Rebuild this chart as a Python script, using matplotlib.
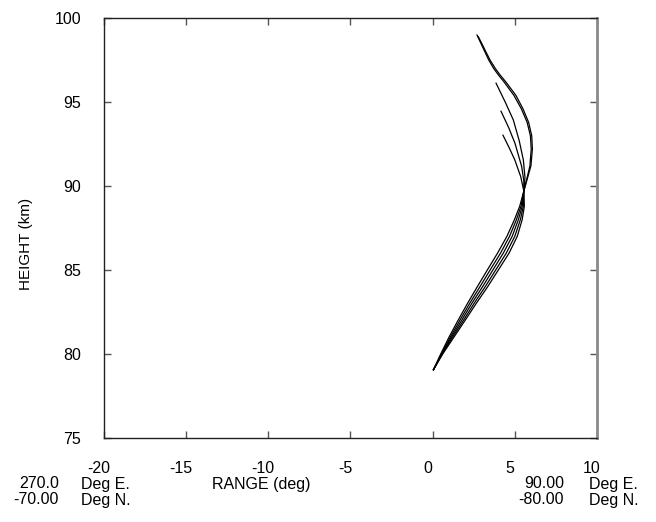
import matplotlib
matplotlib.use("Agg")
import matplotlib.pyplot as plt
import matplotlib.transforms as mtransforms

plt.rcParams['font.family'] = ['Liberation Sans', 'DejaVu Sans']
plt.rcParams['axes.unicode_minus'] = False

# heights (km) read for the lower part of the profiles (all lines share them)
lower_h = [79.05, 80.0, 81.0, 82.0, 83.0, 84.0, 85.0, 86.0, 87.0, 88.0, 88.8, 89.7]
lower_x = [
    [0.05, 0.50, 1.00, 1.55, 2.12, 2.72, 3.33, 3.95, 4.52, 4.98, 5.30, 5.55],
    [0.05, 0.53, 1.08, 1.66, 2.25, 2.88, 3.50, 4.13, 4.68, 5.10, 5.38, 5.55],
    [0.05, 0.56, 1.15, 1.77, 2.38, 3.04, 3.67, 4.30, 4.84, 5.22, 5.45, 5.55],
    [0.05, 0.59, 1.22, 1.88, 2.52, 3.20, 3.84, 4.48, 5.00, 5.34, 5.52, 5.55],
    [0.05, 0.62, 1.30, 1.98, 2.65, 3.35, 4.00, 4.65, 5.15, 5.45, 5.58, 5.55],
]

# upper part, above the crossing near 90 km
upper_h = [
    [90.5, 91.2, 92.2, 93.0, 93.8, 94.6, 95.4, 96.2, 96.6, 97.0, 97.5, 98.0, 98.5, 99.0],
    [90.5, 91.2, 92.2, 93.0, 93.8, 94.6, 95.4, 96.2, 96.6, 97.0, 97.5, 98.0, 98.5, 98.9],
    [90.5, 91.56, 92.7, 93.94, 95.0, 96.13],
    [90.3, 91.16, 92.55, 93.5, 94.46],
    [90.56, 91.56, 92.3, 93.03],
]
upper_x = [
    [5.75, 5.92, 6.00, 5.95, 5.75, 5.40, 4.95, 4.35, 4.02, 3.72, 3.42, 3.18, 2.94, 2.70],
    [5.78, 5.98, 6.07, 6.03, 5.84, 5.50, 5.07, 4.46, 4.12, 3.82, 3.50, 3.24, 2.99, 2.78],
    [5.62, 5.52, 5.27, 4.91, 4.42, 3.86],
    [5.55, 5.42, 5.01, 4.62, 4.16],
    [5.36, 5.00, 4.65, 4.28],
]

x_ticks = [-20, -15, -10, -5, 0, 5, 10]
y_ticks = [75, 80, 85, 90, 95, 100]

fs = 11.5

fig = plt.figure(figsize=(6.56, 5.22), dpi=100)
ax = fig.add_axes([0.1585, 0.1615, 0.7515, 0.8035])

for i in range(len(lower_x)):
    xs = lower_x[i] + upper_x[i]
    hs = lower_h + upper_h[i]
    ax.plot(xs, hs, color='black', lw=0.9)

ax.set_xlim(-20, 10)
ax.set_ylim(75, 100)
ax.set_xticks(x_ticks)
ax.set_yticks(y_ticks)
ax.tick_params(direction='in', length=5, width=1, color='#555555',
               top=True, right=True, labelsize=fs)
ax.tick_params(axis='x', pad=16.5)
ax.tick_params(axis='y', pad=16.5)
for lab in ax.get_xticklabels():
    lab.set_transform(lab.get_transform() +
                      mtransforms.ScaledTranslation(-5 / 100, 0, fig.dpi_scale_trans))

for side in ['left', 'bottom', 'top']:
    ax.spines[side].set_color('#222222')
    ax.spines[side].set_linewidth(1.0)
ax.spines['right'].set_color('#8a8a8a')
ax.spines['right'].set_linewidth(2.0)

ax.set_ylabel('HEIGHT (km)', fontsize=11)
ax.yaxis.set_label_coords(-0.144, 0.462)

# texts below the axis
row2 = 1 - 484 / 522
row3 = 1 - 500 / 522
fig.text(261 / 656, row2, 'RANGE (deg)', ha='center', va='center', fontsize=fs)
fig.text(59 / 656, row2, '270.0', ha='right', va='center', fontsize=fs)
fig.text(81 / 656, row2, 'Deg E.', ha='left', va='center', fontsize=fs)
fig.text(59 / 656, row3, '-70.00', ha='right', va='center', fontsize=fs)
fig.text(81 / 656, row3, 'Deg N.', ha='left', va='center', fontsize=fs)
fig.text(564 / 656, row2, '90.00', ha='right', va='center', fontsize=fs)
fig.text(589 / 656, row2, 'Deg E.', ha='left', va='center', fontsize=fs)
fig.text(564 / 656, row3, '-80.00', ha='right', va='center', fontsize=fs)
fig.text(589 / 656, row3, 'Deg N.', ha='left', va='center', fontsize=fs)

fig.savefig('out.png', dpi=100)
